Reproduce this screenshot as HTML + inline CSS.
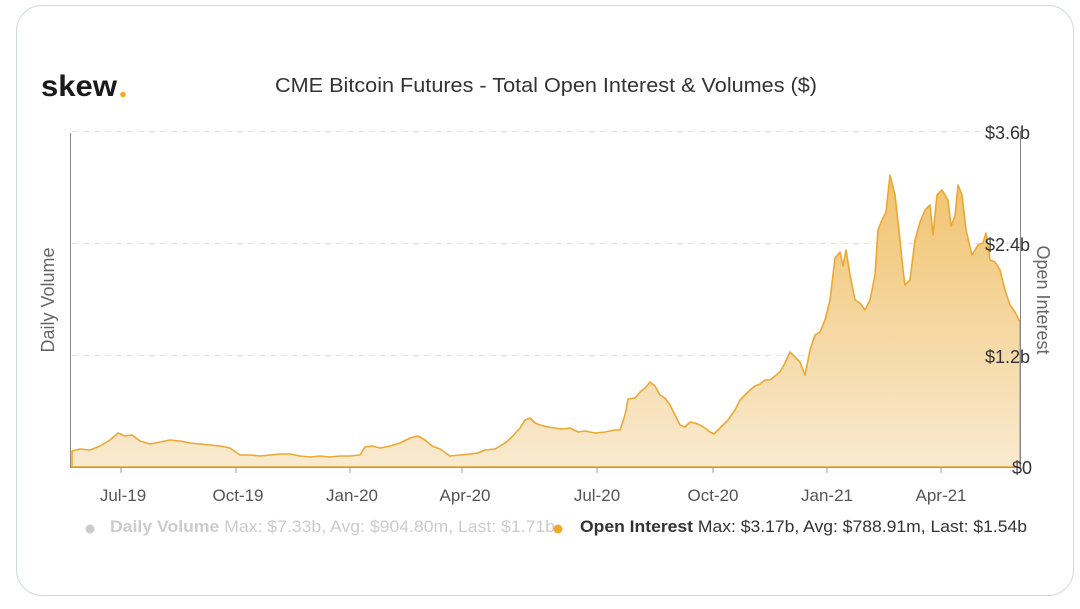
<!DOCTYPE html>
<html><head><meta charset="utf-8"><style>
html,body{margin:0;padding:0;background:#fff;width:1080px;height:609px;overflow:hidden}
.card{position:absolute;left:16px;top:5px;width:1058px;height:591px;border:1.5px solid #cdd9e3;border-radius:26px;box-sizing:border-box}
svg{position:absolute;left:0;top:0}
text{font-family:"Liberation Sans",sans-serif}
</style></head><body>
<div class="card"></div>
<svg width="1080" height="609" viewBox="0 0 1080 609">
<defs><linearGradient id="g" x1="0" y1="0" x2="0" y2="1">
<stop offset="0" stop-color="#f1c36e"/><stop offset="1" stop-color="#f9ead0"/></linearGradient></defs>
<text x="41" y="96" font-size="30" font-weight="bold" fill="#1a1a1a" textLength="76" lengthAdjust="spacingAndGlyphs">skew</text>
<circle cx="123" cy="94.5" r="2.8" fill="#f0a928"/>
<text x="275" y="92" font-size="20" fill="#333" textLength="542" lengthAdjust="spacingAndGlyphs">CME Bitcoin Futures - Total Open Interest &amp; Volumes ($)</text>
<g stroke="#e3e3e3" stroke-dasharray="6,5" stroke-width="1">
<line x1="72" y1="131.5" x2="1020" y2="131.5"/>
<line x1="72" y1="243.5" x2="1020" y2="243.5"/>
<line x1="72" y1="355.5" x2="1020" y2="355.5"/>
</g>
<path fill="url(#g)" stroke="#eba832" stroke-width="1.6" stroke-linejoin="round" d="M72,451 L80,449 90,450 100,446 110,440 118,433 125,436 132,435 140,441 150,444 160,442 170,440 180,441 190,443 200,444 210,445 220,446 230,448 240,455 250,455 260,456 270,455 280,454 290,454 300,456 310,457 320,456 330,457 340,456 350,456 360,455 365,447 372,446 380,448 390,446 400,443 410,438 418,436 425,440 432,446 440,449 450,456 460,455 470,454 478,453 485,450 495,449 505,443 512,437 520,428 525,420 530,418 535,423 540,425 548,427 555,428 562,429 570,428 578,432 585,431 595,433 605,432 615,430 620,430 625,415 628,399 635,398 640,392 645,388 650,382 655,386 660,395 665,398 670,405 675,415 680,425 685,427 690,422 695,423 700,425 705,428 710,432 714,434 720,428 728,420 735,410 740,400 745,395 750,390 755,386 760,384 765,380 770,380 775,376 780,372 785,363 790,352 795,357 800,362 805,375 810,350 815,335 820,332 825,320 830,300 835,258 840,252 843,266 846,250 850,275 855,300 860,303 865,310 870,300 875,275 878,230 882,220 886,212 890,175 895,195 900,240 903,270 905,285 910,280 915,240 920,222 925,210 930,205 933,235 937,195 942,190 948,200 951,226 955,216 958,185 962,195 966,230 972,255 978,245 983,243 986,233 990,260 995,262 1000,270 1005,290 1010,305 1015,312 1020,322 L1020,467 L72,467 Z"/>
<line x1="70.5" y1="133" x2="70.5" y2="467" stroke="#888" stroke-width="1"/>
<line x1="1020.5" y1="131" x2="1020.5" y2="467" stroke="#888" stroke-width="1"/>
<line x1="70" y1="467.5" x2="1021" y2="467.5" stroke="#999" stroke-width="1"/>
<g stroke="#999"><line x1="121" y1="467" x2="121" y2="473"/><line x1="236" y1="467" x2="236" y2="473"/><line x1="350" y1="467" x2="350" y2="473"/><line x1="462" y1="467" x2="462" y2="473"/><line x1="597" y1="467" x2="597" y2="473"/><line x1="713" y1="467" x2="713" y2="473"/><line x1="827" y1="467" x2="827" y2="473"/><line x1="941" y1="467" x2="941" y2="473"/></g>
<g font-size="17" fill="#555" text-anchor="middle">
<text x="123" y="501">Jul-19</text><text x="238" y="501">Oct-19</text><text x="352" y="501">Jan-20</text><text x="465" y="501">Apr-20</text><text x="597" y="501">Jul-20</text><text x="713" y="501">Oct-20</text><text x="827" y="501">Jan-21</text><text x="941" y="501">Apr-21</text>
</g>
<g font-size="18" fill="#333" text-anchor="end">
<text x="1030" y="139">$3.6b</text><text x="1030" y="251">$2.4b</text><text x="1030" y="363">$1.2b</text><text x="1032" y="474">$0</text>
</g>
<text transform="translate(54,300) rotate(-90)" font-size="18" fill="#666" text-anchor="middle">Daily Volume</text>
<text transform="translate(1037,300) rotate(90)" font-size="18" fill="#666" text-anchor="middle">Open Interest</text>
<circle cx="90" cy="529" r="4.5" fill="#ccc"/>
<text x="110" y="532" font-size="17" fill="#ccc" textLength="445" lengthAdjust="spacingAndGlyphs"><tspan font-weight="bold">Daily Volume</tspan> Max: $7.33b, Avg: $904.80m, Last: $1.71b</text>
<circle cx="558" cy="529" r="4.5" fill="#f0a928"/>
<text x="580" y="532" font-size="17" fill="#333" textLength="447" lengthAdjust="spacingAndGlyphs"><tspan font-weight="bold">Open Interest</tspan> Max: $3.17b, Avg: $788.91m, Last: $1.54b</text>
</svg>
</body></html>
